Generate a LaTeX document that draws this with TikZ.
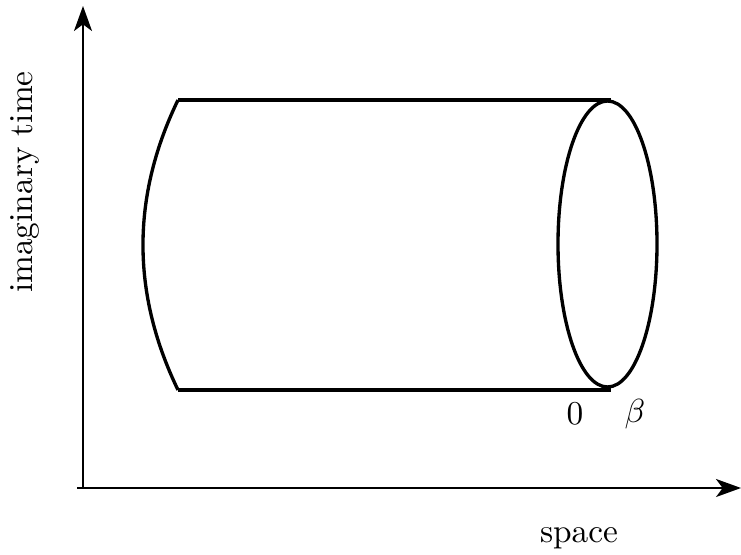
\documentclass[tikz,border=0pt]{standalone}
\usetikzlibrary{arrows.meta}
\begin{document}
\begin{tikzpicture}[x=0.3pt,y=-0.3pt,
  thick line/.style={line width=1pt},
  axis/.style={line width=0.6pt,-{Stealth[length=7.5pt,width=5.4pt,inset=2pt]}},
  lbl/.style={inner sep=0pt,font=\fontsize{10}{12}\selectfont}]
\useasboundingbox (0,0) rectangle (741,554);
% axes
\coordinate (xs) at (77,488);
\coordinate (xe) at (741,488);
\coordinate (ys) at (83,488);
\coordinate (ye) at (83,6);
\draw[axis] (xs) -- (xe);
\draw[axis] (ys) -- (ye);
% cylinder
\coordinate (tl) at (178,100);
\coordinate (bl) at (178,390);
\coordinate (tr) at (611,100);
\coordinate (br) at (611,390);
\draw[thick line] (tl) -- (tr);
\draw[thick line] (bl) -- (br);
\draw[thick line] (tl) .. controls (131.3,196.7) and (131.3,293.3) .. (bl);
\draw[thick line] (607.5,244) ellipse [x radius=49.5, y radius=143];
% labels
\node[lbl] (zero) at (575,414) {$0$};
\node[lbl] (beta) at (635,414) {$\beta$};
\node[lbl] (space) at (579,538) {space};
\node[lbl,rotate=90] (imag) at (25,182) {imaginary time};
\end{tikzpicture}
\end{document}
